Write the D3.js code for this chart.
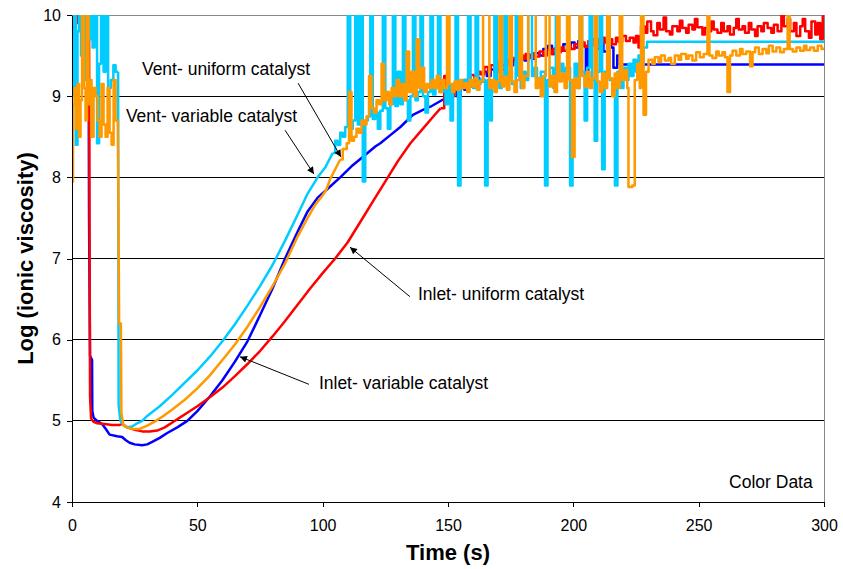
<!DOCTYPE html>
<html>
<head>
<meta charset="utf-8">
<script src="https://cdn.jsdelivr.net/npm/d3@7"></script>
<style>
  body { margin: 0; background: #fff; }
  text { font-family: "Liberation Sans", Arial, sans-serif; }
</style>
</head>
<body>
<script>
// time (s), log(ionic viscosity)
var inletUniform = [
  [0,10.2],[0.6,9.85],[1.2,10.1],[1.8,9.9],[2.4,10.2],[3,9.82],[3.6,9.95],[4.2,10.1],[4.8,9.8],[5.4,9.9],[6,10.1],
  [6.8,9.9],[7.0,7.5],[7.2,5.3],[7.6,5.03],[8.5,4.99],[10,4.97],[13,4.96],[16,4.95],[19,4.95],[20,4.96],[22,4.92],
  [25,4.89],[28,4.87],[31,4.87],[34,4.88],[37,4.92],[40,4.98],[43,5.04],[46,5.1],[50,5.18],[55,5.29],[60,5.41],
  [65,5.55],[70,5.7],[75,5.86],[80,6.04],[85,6.23],[90,6.43],[95,6.63],[100,6.82],[105,7.0],[110,7.2],[115,7.45],
  [120,7.7],[126,8.0],[130,8.2],[135,8.42],[140,8.6],[145,8.78],[147,8.85],
  [148.5,9.25],[149.5,8.92],[151,9.0],[152.5,9.08],[154,9.05],[155,9.14],[156.5,9.2],[158,9.17],[159,9.26],
  [160.5,9.22],[162,9.3],[163,9.27],[164.5,9.36],[166,9.3],[167,9.38],[168.5,9.34],[170,9.42],[171.5,9.38],
  [173,9.45],[174,9.4],[175.5,9.47],[177,9.42],[178.5,9.5],[180,9.46],[181,9.52],[182.5,9.47],[184,9.53],
  [185,9.49],[186.5,9.55],[188,9.5],[189.5,9.57],[191,9.52],[192,9.58],[193.5,9.54],[195,9.6],[196,9.56],
  [197.5,9.62],[199,9.58],[200.5,9.64],[202,9.6],[203,9.66],[204.5,9.61],[206,9.68],[207,9.63],[208.5,9.7],
  [210,9.64],[211.5,9.72],[212.5,9.66],[214,9.7],[215.5,9.64],[217,9.72],[218,9.67],[219.5,9.74],[221,9.68],
  [222.5,9.72],[224,9.66],[225,9.74],[226,9.6],
  [227,9.86],[228.5,9.78],[229.5,9.92],[231,9.8],[232,9.75],[233.5,9.9],[234.5,9.82],[236,9.97],[237,9.8],
  [238.5,9.76],[239.5,9.86],[241.5,9.8],[242.5,9.93],[243.5,9.84],[245,9.78],[246,9.88],[247.5,9.82],[248.5,9.95],
  [249.5,9.85],[251.5,9.76],[252.5,9.84],[254,9.8],[255,9.92],[256,9.82],[257.5,9.78],[259,9.9],[260,9.8],
  [261.5,9.86],[262.5,9.76],[264,9.84],[265,9.95],[266,9.82],[267.5,9.86],[268.5,9.78],[270,9.9],[271,9.82],
  [272.5,9.74],[273.5,9.86],[275,9.8],[276,9.9],[277.5,9.84],[279,9.78],[280,9.88],[281.5,9.8],[283,10.0],
  [284,9.86],[285.5,9.95],[286.5,9.8],[288,9.9],[289,9.74],[290.5,9.86],[291.5,9.95],[292.5,9.8],[294,9.72],
  [295,9.92],[296.5,9.76],[297.5,9.9],[298.5,9.7],[299.5,9.98],[300,10.0]
];
var inletVariable = [
  [0,10.1],[1,10.2],[2,9.95],[3,10.1],[4,10.2],[5,10.05],[6,10.1],
  [6.6,10.0],[6.8,7.5],[7.2,5.8],[8.0,5.75],[8.1,5.12],[8.6,5.04],[10,5.0],[12,4.96],[13.5,4.9],[15,4.83],[18,4.81],
  [20,4.8],[21.5,4.76],[23,4.73],[25,4.71],[28,4.7],[30,4.71],[32,4.74],[35,4.79],[38,4.85],[42,4.92],[46,5.0],
  [50,5.12],[55,5.3],[60,5.5],[65,5.73],[70,5.98],[75,6.3],[80,6.63],[85,7.0],[90,7.33],[94,7.58],[98,7.75],
  [102,7.86],[107,8.0],[112,8.15],[116,8.25],[121,8.38],[123,8.42],[127,8.52],[131,8.62],[136,8.77],[140,8.83],
  [143,8.87],[147,8.94],[150,8.99],[152,9.05],
  [153.5,9.0],[155,9.1],[156.5,9.08],[158,9.16],[159.5,9.12],[161,9.22],[162.5,9.18],[164,9.3],[165.5,9.25],
  [167,9.33],[168.5,9.3],[170,9.38],[171.5,9.33],[173,9.42],[174.5,9.38],[176,9.45],[177.5,9.4],[179,9.48],
  [180.5,9.44],[182,9.5],[183.5,9.46],[185,9.53],[186.5,9.5],[188,9.58],[190,9.62],[191.5,9.52],[193,9.6],
  [194.5,9.56],[196,9.64],[197.5,9.58],[199,9.66],[200.5,9.6],[202,9.68],[203.5,9.62],[205,9.3],[206,9.62],
  [207.5,9.7],[209,9.58],[210.5,9.66],[212,9.55],[213.5,9.68],[215,9.6],[216,9.35],[217.5,9.5],[218.6,9.39],[300,9.39]
];
var ventUniform = [
  [0,9.0],[0.8,10.3],[1.5,8.4],[2.2,9.8],[2.8,10.3],[3.6,9.5],[4.4,10.3],[5.2,9.2],[6,10.3],[6.8,9.7],[7.5,10.3],
  [8.2,9.6],[9,10.3],[10,8.42],[10.8,9.4],[11.6,10.3],[12.6,9.3],[13.4,10.3],[14.4,9.1],[15.5,9.2],[16.5,9.38],[17.4,9.3],
  [18.4,9.3],[18.6,5.2],[19.3,5.0],[20.5,4.95],[22,4.92],[24,4.93],[26,4.97],[28,5.0],[30,5.06],[35,5.18],[40,5.32],
  [45,5.47],[50,5.62],[55,5.79],[60,5.98],[65,6.19],[70,6.42],[75,6.66],[80,6.92],[85,7.22],[90,7.54],[94,7.8],
  [98,8.0],[101,8.12],[104,8.3],
  [105,8.45],[106,8.4],[107,8.55],[108,8.5],[109,8.62],[110,10.3],[111,8.6],[112,8.7],[113,10.3],[114,8.65],
  [115,10.3],[116,7.95],[117,8.7],[118,8.75],[119,10.3],[120,8.72],[121,8.8],[122,8.6],[123,8.82],[124,10.3],
  [125,8.85],[126,8.6],[127,8.9],[128,10.3],[129,8.88],[130,9.3],[131,8.9],[132,10.3],[133,8.95],[134,8.7],
  [135,9.0],[136,10.3],[137,8.95],[138,9.05],[139,10.3],[140,9.0],[141,8.8],[142,9.05],[143,10.3],[144,9.02],
  [145,9.1],[146,10.3],[147,9.05],[148,9.1],[149,8.9],[150,9.15],[151,8.7],[152,9.15],[153,10.3],[154,7.9],
  [155,9.1],[156,9.2],[157,9.15],[158,10.3],[159,9.2],[160,9.1],[161,10.3],[162,9.15],[163,9.2],[164.8,7.9],
  [165.8,9.2],[166.8,8.7],[167.5,9.15],[168.5,10.3],[169.5,9.2],[170.5,9.1],[171.5,9.25],[172.5,10.3],[173.5,9.2],
  [174.5,9.3],[175.5,9.15],[177,10.3],[178,9.25],[179,9.1],[180,9.3],[181,9.2],[182,10.3],[183.5,9.25],[184.5,9.35],
  [185.5,9.2],[187,9.3],[188.7,7.9],[189.7,9.2],[190.7,9.35],[192,9.1],[193,10.3],[194,9.3],[195,9.4],[196,9.2],
  [197,9.35],[198.7,7.9],[199.7,9.2],[200.5,9.4],[201.5,9.1],[202.5,10.3],[203.5,9.3],[204.5,8.7],[205.5,9.35],
  [206.5,10.3],[207.5,9.2],[208.5,8.45],[209.5,9.3],[210.5,10.3],[211.5,8.1],[212.5,9.3],[213.5,10.3],[214.5,9.2],
  [216.6,7.9],[217.6,9.3],[219,9.1],[220,9.35],[221,9.2],[222,9.4],[223,9.25],[224,9.45],[225,9.3],[226,9.5],
  [227,9.35],[228,9.6],[229.4,9.67],[300,9.67]
];
var ventVariable = [
  [0,7.95],[0.4,8.9],[1,9.1],[1.6,8.6],[2.2,9.15],[2.8,8.5],[3.4,8.95],[4,10.3],[4.8,9.1],[5.4,8.7],[6,10.3],
  [6.6,8.9],[7.2,9.2],[7.8,8.5],[8.6,9.1],[9.4,9.0],[10.2,8.7],[11,8.5],[11.8,9.15],[12.6,8.65],[13.4,8.5],
  [14.2,9.1],[15,8.55],[15.8,8.4],[16.6,9.2],[17.4,8.7],
  [18.3,8.5],[18.5,7.7],[18.8,6.2],[19.5,6.2],[19.7,5.1],[20.5,4.95],[22,4.92],[24,4.9],[27,4.9],[30,4.94],
  [33,4.99],[36,5.05],[40,5.14],[45,5.26],[50,5.4],[55,5.56],[60,5.75],[65,5.94],[70,6.16],[75,6.4],[80,6.66],
  [85,6.94],[90,7.27],[94,7.5],[97,7.66],[100,7.78],[101.5,7.85],[103,7.98],[105,8.1],[107,8.22],
  [108,8.35],[109.6,8.42],[110.5,9.05],[111.5,8.45],[112.5,8.5],[113.5,8.6],[114.5,8.55],[115.5,8.7],[116.5,8.65],
  [117.5,8.75],[118.5,9.25],[119.5,8.85],[120.5,8.8],[121.5,8.95],[122.5,8.9],[123.5,9.4],[124.5,8.95],[125.5,9.05],
  [126.5,8.9],[127.5,9.1],[128.5,9.0],[129.5,9.2],[130.5,9.0],[131.5,9.15],[132.5,8.95],[133.5,9.55],[134.5,9.05],
  [135.5,9.3],[136.5,9.0],[137.5,9.7],[138.5,9.1],[139.5,9.35],[140.5,9.05],[141.5,9.15],[142.5,9.1],[143.5,9.2],
  [144.5,9.1],[145.5,9.25],[146.5,9.05],[147.5,9.2],[148.5,9.1],[149.6,10.3],[150.6,9.15],[151.6,9.05],[152.6,9.18],
  [153.6,9.08],[154.6,9.2],[155.6,9.1],[156.6,9.16],[157.6,9.05],[158.6,9.2],[159.6,9.12],[160.6,9.22],[161.6,9.08],
  [162.6,9.18],[164,10.3],[166.5,9.1],[167.5,9.2],[168.5,9.05],[169.5,9.18],[170.5,10.3],[171.5,9.12],[172.5,9.24],
  [173.5,9.08],[174.5,10.3],[175.5,9.18],[176.5,9.05],[177.5,9.2],[178.5,10.3],[179.5,9.1],[180.5,9.25],[182,10.3],
  [185,9.1],[186,9.22],[187,9.0],[188,9.25],[189,10.3],[190.5,9.12],[191.5,9.25],[192.5,9.05],[193.5,10.3],
  [194.5,9.18],[195.5,9.28],[196.5,9.1],[197.5,10.3],[198.5,9.2],[199.5,8.25],[200.5,9.22],[201.5,9.1],[202.5,10.3],
  [203.5,9.25],[204.5,9.12],[205.5,9.3],[206.5,9.1],[207.5,9.22],[208.5,10.3],[209.5,9.18],[210.5,9.05],[211.5,9.28],
  [212.5,9.1],[213.5,10.3],[214.5,9.22],[215.5,9.0],[216.5,9.28],[217.5,9.1],[218.5,10.3],[219.5,9.2],[220.5,9.32],
  [221.5,9.1],[222,7.88],[223.5,7.9],[224.5,9.2],[225.5,9.4],[226.5,9.1],[227,10.3],[228,8.77],[229,9.3],
  [230,9.45],[231.5,9.4],[232.5,9.48],[234,9.42],[235,9.5],[236.5,9.44],[238,9.47],[239,9.4],[240.5,9.5],
  [242,9.45],[243,9.52],[245,9.46],[246,9.5],[247.5,9.44],[249,9.54],[250.5,9.48],[252,9.52],[253.5,10.3],
  [254.3,9.5],[255.5,9.47],[257,9.55],[258,9.5],[259.5,9.54],[260.5,9.48],[261.5,9.05],[262.5,9.5],[263.5,9.56],
  [265,9.5],[266.5,9.58],[267.5,9.52],[269,9.55],[270.5,9.37],[271.5,9.54],[272.5,9.6],[274,9.52],[275.5,9.58],
  [277,9.53],[278,9.62],[279.5,9.55],[281,9.6],[282.5,9.54],[284,9.58],[285.5,10.3],[286.3,9.58],[287.5,9.55],
  [289,9.6],[290.5,9.56],[292,9.62],[293,9.57],[294.5,9.6],[296,9.56],[297.5,9.62],[299,9.58],[300,9.6]
];

var xTicks = [0, 50, 100, 150, 200, 250, 300];
var yTicks = [4, 5, 6, 7, 8, 9, 10];

// annotation: text, text anchor [t,v], arrow start [t,v], arrow tip [t,v]
var noteText = ["Vent- uniform catalyst", "Vent- variable catalyst", "Inlet- uniform catalyst", "Inlet- variable catalyst"];
var notePos  = [[27.9, 9.26], [21.5, 8.68], [138, 6.49], [98.5, 5.39]];
var noteFrom = [[90.2, 9.16], [85.0, 8.58], [134.8, 6.53], [94.5, 5.45]];
var noteTo   = [[107.3, 8.25], [96.5, 8.04], [110.9, 7.14], [67.0, 5.79]];

var width = 843, height = 569;
var margin = {top: 15, right: 19, bottom: 67, left: 72};

var svg = d3.select("body").append("svg")
    .attr("width", width)
    .attr("height", height);

var x = d3.scaleLinear().domain([0, 300]).range([margin.left, width - margin.right]);
var y = d3.scaleLinear().domain([4, 10]).range([height - margin.bottom, margin.top]);

// series in draw order; rise = time span drawn as smooth line, rest as steps
var series = [
  {data: inletVariable, color: "#0000ff", rise: [6.6, 152]},
  {data: inletUniform,  color: "#ff0000", rise: [6.8, 147]},
  {data: ventUniform,   color: "#00ccff", rise: [18.4, 104]},
  {data: ventVariable,  color: "#ff9900", rise: [18.3, 107]}
];

svg.append("defs").append("clipPath").attr("id", "plot")
  .append("rect")
    .attr("x", x(0)).attr("y", y(10))
    .attr("width", x(300) - x(0)).attr("height", y(4) - y(10));

svg.append("defs").append("marker")
    .attr("id", "head")
    .attr("viewBox", "0 0 10 10")
    .attr("refX", 10).attr("refY", 5)
    .attr("markerWidth", 9).attr("markerHeight", 7)
    .attr("markerUnits", "userSpaceOnUse")
    .attr("orient", "auto")
  .append("path")
    .attr("d", "M0,0L10,5L0,10z")
    .attr("fill", "#000");

// grid lines
svg.append("g")
  .selectAll("line")
  .data(yTicks.filter(function(d) { return d > 4 && d < 10; }))
  .enter().append("line")
    .attr("x1", x(0)).attr("x2", x(300))
    .attr("y1", function(d) { return y(d); })
    .attr("y2", function(d) { return y(d); })
    .attr("stroke", "#000")
    .attr("stroke-width", 1)
    .attr("shape-rendering", "crispEdges");

// plot border top/right
svg.append("path")
    .attr("d", "M" + x(0) + "," + y(10) + "H" + x(300) + "V" + y(4))
    .attr("fill", "none")
    .attr("stroke", "#888")
    .attr("stroke-width", 1)
    .attr("shape-rendering", "crispEdges");

var smooth = d3.line()
    .x(function(d) { return x(d[0]); })
    .y(function(d) { return y(d[1]); });
var stepped = d3.line()
    .curve(d3.curveStepAfter)
    .x(function(d) { return x(d[0]); })
    .y(function(d) { return y(d[1]); });

var lines = svg.append("g").attr("clip-path", "url(#plot)");

series.forEach(function(s) {
  var a = s.rise[0], b = s.rise[1];
  var parts = [
    [stepped, s.data.filter(function(d) { return d[0] <= a; })],
    [smooth,  s.data.filter(function(d) { return d[0] >= a && d[0] <= b; })],
    [stepped, s.data.filter(function(d) { return d[0] >= b; })]
  ];
  parts.forEach(function(p) {
    lines.append("path")
      .datum(p[1])
      .attr("fill", "none")
      .attr("stroke", s.color)
      .attr("stroke-width", 2.5)
      .attr("stroke-linejoin", "round")
      .attr("d", p[0]);
  });
});

// axes
var xAxis = svg.append("g")
    .attr("transform", "translate(0," + y(4) + ")")
    .call(d3.axisBottom(x).tickValues(xTicks).tickSize(5).tickPadding(13).tickSizeOuter(0));
var yAxis = svg.append("g")
    .attr("transform", "translate(" + x(0) + ",0)")
    .call(d3.axisLeft(y).tickValues(yTicks).tickFormat(d3.format("d")).tickSize(5).tickPadding(6).tickSizeOuter(0));

[xAxis, yAxis].forEach(function(ax) {
  ax.selectAll("path, line").attr("stroke", "#000").attr("shape-rendering", "crispEdges");
  ax.selectAll("text")
    .attr("fill", "#000")
    .style("font-family", "'Liberation Sans', Arial, sans-serif")
    .style("font-size", "16px");
});

svg.append("text")
    .attr("x", (x(0) + x(300)) / 2)
    .attr("y", 560)
    .attr("text-anchor", "middle")
    .style("font-size", "22px")
    .style("font-weight", "bold")
    .text("Time (s)");

svg.append("text")
    .attr("transform", "translate(33," + (y(4) + y(10)) / 2 + ")rotate(-90)")
    .attr("text-anchor", "middle")
    .style("font-size", "22px")
    .style("font-weight", "bold")
    .text("Log (ionic viscosity)");

// annotations
var notes = svg.append("g");
noteText.forEach(function(t, i) {
  notes.append("text")
    .attr("x", x(notePos[i][0]))
    .attr("y", y(notePos[i][1]))
    .style("font-size", "17.5px")
    .attr("fill", "#000")
    .text(t);
  notes.append("line")
    .attr("x1", x(noteFrom[i][0])).attr("y1", y(noteFrom[i][1]))
    .attr("x2", x(noteTo[i][0])).attr("y2", y(noteTo[i][1]))
    .attr("stroke", "#000")
    .attr("stroke-width", 1)
    .attr("marker-end", "url(#head)");
});

svg.append("text")
    .attr("x", x(295.5))
    .attr("y", y(4.17))
    .attr("text-anchor", "end")
    .style("font-size", "17.5px")
    .text("Color Data");
</script>
</body>
</html>
